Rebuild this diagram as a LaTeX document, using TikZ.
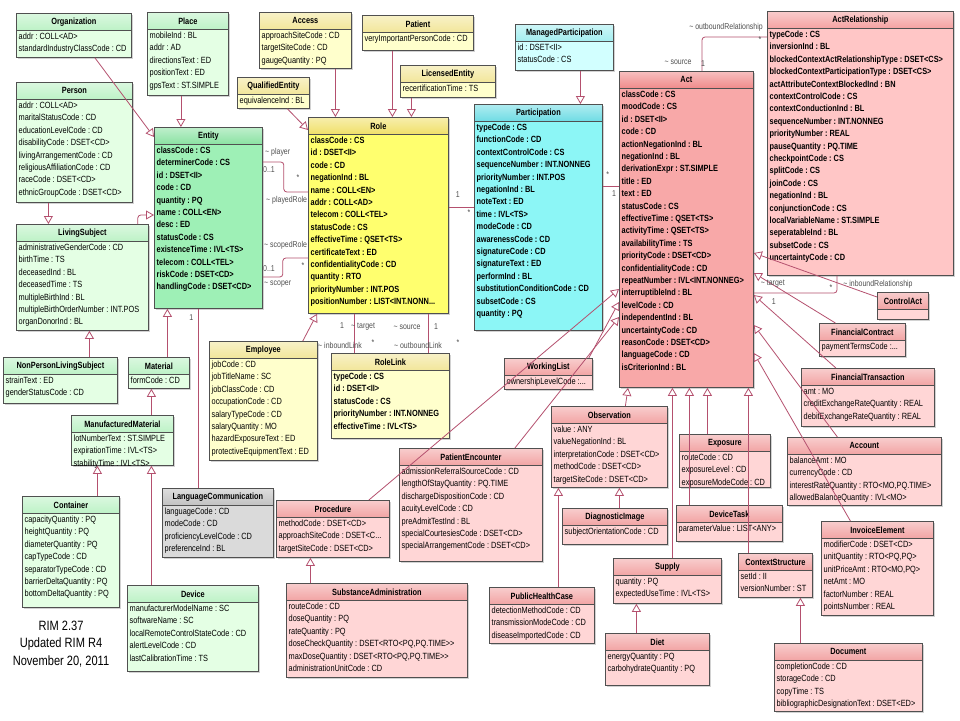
\documentclass[tikz,border=0pt]{standalone}
\usepackage{fontspec}
\usepackage{xcolor}
\usepackage{tikz}
\usetikzlibrary{calc,arrows.meta,shadows}
\newfontfamily\umlfont{Liberation Sans}[FakeStretch=0.82]
\definecolor{edge}{HTML}{505050}
\definecolor{link}{HTML}{B4506E}
\definecolor{labtxt}{HTML}{505050}
\definecolor{entbody}{HTML}{9EF0B6}
\definecolor{enthead}{HTML}{8AE2A2}
\definecolor{grnbody}{HTML}{E4FFE4}
\definecolor{grnhead}{HTML}{BDF2C6}
\definecolor{rolbody}{HTML}{FFFF6E}
\definecolor{rolhead}{HTML}{F0E068}
\definecolor{ylwbody}{HTML}{FFFFCC}
\definecolor{ylwhead}{HTML}{F2E69A}
\definecolor{parbody}{HTML}{8CF6F6}
\definecolor{parhead}{HTML}{6EDCE4}
\definecolor{cynbody}{HTML}{D2FFFF}
\definecolor{cynhead}{HTML}{A4EEF0}
\definecolor{actbody}{HTML}{F8A8A8}
\definecolor{acthead}{HTML}{F08A8A}
\definecolor{arlbody}{HTML}{FFC6C6}
\definecolor{arlhead}{HTML}{F4A2A2}
\definecolor{pnkbody}{HTML}{FFD6D6}
\definecolor{pnkhead}{HTML}{F2A4A4}
\definecolor{grybody}{HTML}{DADADA}
\definecolor{gryhead}{HTML}{C2C2C2}
\tikzset{
  box/.style={draw=edge, line width=0.8pt, fill=#1body, inner sep=0pt,
    drop shadow={shadow xshift=1.5pt, shadow yshift=-1.5pt, fill=black!35}},
  head/.style={draw=edge, line width=0.8pt, top color=#1head!55!white, bottom color=#1head,
    minimum height=17pt, inner sep=0pt, font=\umlfont\fontsize{9}{11}\selectfont\bfseries},
  attr/.style={inner xsep=2.5pt, inner ysep=2pt, align=left,
    font=\umlfont\fontsize{9}{12.4}\selectfont\frenchspacing},
  core/.style={font=\umlfont\fontsize{9}{12.4}\selectfont\frenchspacing\bfseries},
  gen/.style={draw=link, line width=0.8pt, -{Triangle[fill=white, length=8pt, width=9pt]}},
  assoc/.style={draw=link, line width=0.8pt, rounded corners=3pt},
  lab/.style={text=labtxt, inner sep=0pt, font=\umlfont\fontsize{8.5}{10}\selectfont},
  note/.style={align=center, font=\umlfont\fontsize{13.5}{17.5}\selectfont},
}
% [attribute style] name, colour, x, y, width, height, title, attributes
\newcommand{\umlclass}[9][]{%
  \node[box=#3, minimum width=#6pt, minimum height=#7pt, anchor=north west] (#2) at (#4,#5) {};
  \node[head=#3, minimum width=#6pt, anchor=north west] (#2-h) at (#2.north west) {#8};
  \node[attr, #1, anchor=north west] (#2-a) at (#2-h.south west) {#9};
}

\begin{document}
\begin{tikzpicture}[x=1pt, y=-1pt]
  \fill[white] (0,0) rectangle (960,720);
  \useasboundingbox (0,0) rectangle (960,720);

  % association labels sit behind the boxes
  \coordinate (ENE) at (262,127);
  \node[lab, anchor=west] (lplayer) at ($(ENE)+(3,25)$) {\textasciitilde{} player};
  \node[lab, anchor=west] (lpl01) at ($(ENE)+(1,43)$) {0..1};
  \node[lab] (lplstar) at ($(ENE)+(36,51)$) {*};
  \node[lab, anchor=west] (lplayed) at ($(ENE)+(4,73)$) {\textasciitilde{} playedRole};
  \node[lab, anchor=west] (lscoped) at ($(ENE)+(2,118)$) {\textasciitilde{} scopedRole};
  \node[lab, anchor=west] (lsc01) at ($(ENE)+(1,142)$) {0..1};
  \node[lab] (lscstar) at ($(ENE)+(41,139)$) {*};
  \node[lab, anchor=west] (lscoper) at ($(ENE)+(2,157)$) {\textasciitilde{} scoper};

  \umlclass{Organization}{grn}{16}{13}{115}{44}{Organization}{addr : COLL<AD>\\standardIndustryClassCode : CD}
  \umlclass{Place}{grn}{147}{12}{81}{83}{Place}{mobileInd : BL\\addr : AD\\directionsText : ED\\positionText : ED\\gpsText : ST.SIMPLE}
  \umlclass{Person}{grn}{16}{82}{116}{120}{Person}{addr : COLL<AD>\\maritalStatusCode : CD\\educationLevelCode : CD\\disabilityCode : DSET<CD>\\livingArrangementCode : CD\\religiousAffiliationCode : CD\\raceCode : DSET<CD>\\ethnicGroupCode : DSET<CD>}
  \umlclass[core]{Entity}{ent}{154}{127}{108}{181}{Entity}{classCode : CS\\determinerCode : CS\\id : DSET<II>\\code : CD\\quantity : PQ\\name : COLL<EN>\\desc : ED\\statusCode : CS\\existenceTime : IVL<TS>\\telecom : COLL<TEL>\\riskCode : DSET<CD>\\handlingCode : DSET<CD>}
  \umlclass{LivingSubject}{grn}{16}{224}{132}{106}{LivingSubject}{administrativeGenderCode : CD\\birthTime : TS\\deceasedInd : BL\\deceasedTime : TS\\multipleBirthInd : BL\\multipleBirthOrderNumber : INT.POS\\organDonorInd : BL}
  \umlclass{NonPersonLivingSubject}{grn}{3}{357}{114}{46}{NonPersonLivingSubject}{strainText : ED\\genderStatusCode : CD}
  \umlclass{Material}{grn}{128}{357}{61}{31}{Material}{formCode : CD}
  \umlclass{ManufacturedMaterial}{grn}{71}{415}{102}{50}{ManufacturedMaterial}{lotNumberText : ST.SIMPLE\\expirationTime : IVL<TS>\\stabilityTime : IVL<TS>}
  \umlclass{Container}{grn}{22}{496}{97}{111}{Container}{capacityQuantity : PQ\\heightQuantity : PQ\\diameterQuantity : PQ\\capTypeCode : CD\\separatorTypeCode : CD\\barrierDeltaQuantity : PQ\\bottomDeltaQuantity : PQ}
  \umlclass{Device}{grn}{127}{585}{131}{86}{Device}{manufacturerModelName : SC\\softwareName : SC\\localRemoteControlStateCode : CD\\alertLevelCode : CD\\lastCalibrationTime : TS}
  \umlclass{LanguageCommunication}{gry}{162}{488}{111}{69}{LanguageCommunication}{languageCode : CD\\modeCode : CD\\proficiencyLevelCode : CD\\preferenceInd : BL}

  \umlclass{Access}{ylw}{259}{12}{92}{56}{Access}{approachSiteCode : CD\\targetSiteCode : CD\\gaugeQuantity : PQ}
  \umlclass{Patient}{ylw}{362}{15}{111}{35}{Patient}{veryImportantPersonCode : CD}
  \umlclass{LicensedEntity}{ylw}{400}{65}{95}{32}{LicensedEntity}{recertificationTime : TS}
  \umlclass{QualifiedEntity}{ylw}{237}{77}{72}{31}{QualifiedEntity}{equivalenceInd : BL}
  \umlclass[core]{Role}{rol}{308}{117}{140}{196}{Role}{classCode : CS\\id : DSET<II>\\code : CD\\negationInd : BL\\name : COLL<EN>\\addr : COLL<AD>\\telecom : COLL<TEL>\\statusCode : CS\\effectiveTime : QSET<TS>\\certificateText : ED\\confidentialityCode : CD\\quantity : RTO\\priorityNumber : INT.POS\\positionNumber : LIST<INT.NONN...}
  \umlclass{Employee}{ylw}{209}{341}{108}{119}{Employee}{jobCode : CD\\jobTitleName : SC\\jobClassCode : CD\\occupationCode : CD\\salaryTypeCode : CD\\salaryQuantity : MO\\hazardExposureText : ED\\protectiveEquipmentText : ED}
  \umlclass[core]{RoleLink}{ylw}{331}{353}{118}{85}{RoleLink}{typeCode : CS\\id : DSET<II>\\statusCode : CS\\priorityNumber : INT.NONNEG\\effectiveTime : IVL<TS>}

  \umlclass{ManagedParticipation}{cyn}{515}{24}{98}{46}{ManagedParticipation}{id : DSET<II>\\statusCode : CS}
  \umlclass[core]{Participation}{par}{474}{104}{128}{226}{Participation}{typeCode : CS\\functionCode : CD\\contextControlCode : CS\\sequenceNumber : INT.NONNEG\\priorityNumber : INT.POS\\negationInd : BL\\noteText : ED\\time : IVL<TS>\\modeCode : CD\\awarenessCode : CD\\signatureCode : CD\\signatureText : ED\\performInd : BL\\substitutionConditionCode : CD\\subsetCode : CS\\quantity : PQ}

  \umlclass[core]{Act}{act}{619}{71}{134}{316}{Act}{classCode : CS\\moodCode : CS\\id : DSET<II>\\code : CD\\actionNegationInd : BL\\negationInd : BL\\derivationExpr : ST.SIMPLE\\title : ED\\text : ED\\statusCode : CS\\effectiveTime : QSET<TS>\\activityTime : QSET<TS>\\availabilityTime : TS\\priorityCode : DSET<CD>\\confidentialityCode : CD\\repeatNumber : IVL<INT.NONNEG>\\interruptibleInd : BL\\levelCode : CD\\independentInd : BL\\uncertaintyCode : CD\\reasonCode : DSET<CD>\\languageCode : CD\\isCriterionInd : BL}
  \umlclass[core]{ActRelationship}{arl}{767}{11}{186}{264}{ActRelationship}{typeCode : CS\\inversionInd : BL\\blockedContextActRelationshipType : DSET<CS>\\blockedContextParticipationType : DSET<CS>\\actAttributeContextBlockedInd : BN\\contextControlCode : CS\\contextConductionInd : BL\\sequenceNumber : INT.NONNEG\\priorityNumber : REAL\\pauseQuantity : PQ.TIME\\checkpointCode : CS\\splitCode : CS\\joinCode : CS\\negationInd : BL\\conjunctionCode : CS\\localVariableName : ST.SIMPLE\\seperatableInd : BL\\subsetCode : CS\\uncertaintyCode : CD}
  \umlclass{ControlAct}{pnk}{877}{292}{51}{27}{ControlAct}{}
  \umlclass{FinancialContract}{pnk}{819}{323}{86}{33}{FinancialContract}{paymentTermsCode :...}
  \umlclass{FinancialTransaction}{pnk}{801}{368}{133}{58}{FinancialTransaction}{amt : MO\\creditExchangeRateQuantity : REAL\\debitExchangeRateQuantity : REAL}
  \umlclass{Account}{pnk}{787}{437}{154}{68}{Account}{balanceAmt : MO\\currencyCode : CD\\interestRateQuantity : RTO<MO,PQ.TIME>\\allowedBalanceQuantity : IVL<MO>}
  \umlclass{InvoiceElement}{pnk}{821}{521}{112}{94}{InvoiceElement}{modifierCode : DSET<CD>\\unitQuantity : RTO<PQ,PQ>\\unitPriceAmt : RTO<MO,PQ>\\netAmt : MO\\factorNumber : REAL\\pointsNumber : REAL}
  \umlclass{ContextStructure}{pnk}{738}{553}{74}{44}{ContextStructure}{setId : II\\versionNumber : ST}
  \umlclass{Document}{pnk}{774}{643}{148}{68}{Document}{completionCode : CD\\storageCode : CD\\copyTime : TS\\bibliographicDesignationText : DSET<ED>}
  \umlclass{Exposure}{pnk}{679}{434}{91}{53}{Exposure}{routeCode : CD\\exposureLevel : CD\\exposureModeCode : CD}
  \umlclass{DeviceTask}{pnk}{676}{505}{106}{36}{DeviceTask}{parameterValue : LIST<ANY>}
  \umlclass{WorkingList}{pnk}{504}{358}{88}{31}{WorkingList}{ownershipLevelCode :...}
  \umlclass{Observation}{pnk}{551}{406}{116}{81}{Observation}{value : ANY\\valueNegationInd : BL\\interpretationCode : DSET<CD>\\methodCode : DSET<CD>\\targetSiteCode : DSET<CD>}
  \umlclass{DiagnosticImage}{pnk}{562}{508}{105}{36}{DiagnosticImage}{subjectOrientationCode : CD}
  \umlclass{PatientEncounter}{pnk}{399}{448}{143}{113}{PatientEncounter}{admissionReferralSourceCode : CD\\lengthOfStayQuantity : PQ.TIME\\dischargeDispositionCode : CD\\acuityLevelCode : CD\\preAdmitTestInd : BL\\specialCourtesiesCode : DSET<CD>\\specialArrangementCode : DSET<CD>}
  \umlclass{Procedure}{pnk}{276}{500}{113}{57}{Procedure}{methodCode : DSET<CD>\\approachSiteCode : DSET<C...\\targetSiteCode : DSET<CD>}
  \umlclass{SubstanceAdministration}{pnk}{286}{583}{181}{94}{SubstanceAdministration}{routeCode : CD\\doseQuantity : PQ\\rateQuantity : PQ\\doseCheckQuantity : DSET<RTO<PQ,PQ.TIME>{}>\\maxDoseQuantity : DSET<RTO<PQ,PQ.TIME>{}>\\administrationUnitCode : CD}
  \umlclass{PublicHealthCase}{pnk}{489}{587}{105}{56}{PublicHealthCase}{detectionMethodCode : CD\\transmissionModeCode : CD\\diseaseImportedCode : CD}
  \umlclass{Supply}{pnk}{613}{558}{108}{45}{Supply}{quantity : PQ\\expectedUseTime : IVL<TS>}
  \umlclass{Diet}{pnk}{605}{633}{104}{52}{Diet}{energyQuantity : PQ\\carbohydrateQuantity : PQ}

  \node[note] (rim) at (61,644) {RIM 2.37\\Updated RIM R4\\November 20, 2011};

  % generalizations
  \draw[gen] ([xshift=21pt]Organization.south) -- ([yshift=-10pt]Entity.north west);
  \draw[gen] ($(Place.south)+(-7,0)$) -- ($(Place.south |- Entity.north)+(-7,0)$);
  \draw[gen] ($(Person.south)+(-26,0)$) -- ($(Person.south |- LivingSubject.north)+(-26,0)$);
  \draw[gen, rounded corners=3pt] ([xshift=-11pt]LivingSubject.north east) |- ([yshift=-88pt]Entity.north west);
  \draw[gen] ($(NonPersonLivingSubject.north)+(29,0)$) -- ($(NonPersonLivingSubject.north |- LivingSubject.south)+(29,0)$);
  \draw[gen] ($(Material.north)+(8.5,0)$) -- ($(Material.north |- Entity.south)+(8.5,0)$);
  \draw[gen] ($(ManufacturedMaterial.north)+(29,0)$) -- ($(ManufacturedMaterial.north |- Material.south)+(29,0)$);
  \draw[gen] ($(Container.north)+(26.5,0)$) -- ($(Container.north |- ManufacturedMaterial.south)+(26.5,0)$);
  \draw[gen] ($(Device.north)+(-41.5,0)$) -- ($(Device.north |- ManufacturedMaterial.south)+(-41.5,0)$);
  \draw[gen] ([xshift=-15pt]Employee.north east) -- ([xshift=9pt]Role.south west);
  \draw[gen] ($(Access.south)+(30,0)$) -- ($(Access.south |- Role.north)+(30,0)$);
  \draw[gen] ($(Patient.south)+(-25.5,0)$) -- ($(Patient.south |- Role.north)+(-25.5,0)$);
  \draw[gen] ($(LicensedEntity.south)+(-36.5,0)$) -- ($(LicensedEntity.south |- Role.north)+(-36.5,0)$);
  \draw[gen] ([xshift=14pt]QualifiedEntity.south) -- ([yshift=-13pt]Role.north west);
  \draw[gen] ($(ManagedParticipation.south)+(16,0)$) -- ($(ManagedParticipation.south |- Participation.north)+(16,0)$);
  \draw[gen] ([xshift=36pt]Procedure.north) -- ([yshift=-218pt]Act.north west);
  \draw[gen] ([xshift=-4pt]WorkingList.north east) -- ([yshift=-231pt]Act.north west);
  \draw[gen] ([xshift=44pt]PatientEncounter.north) -- ([yshift=-246pt]Act.north west);
  \draw[gen] ([xshift=16pt]Observation.north) -- ([xshift=9pt]Act.south west);
  \draw[gen] ($(Supply.north)+(5,0)$) -- ($(Supply.north |- Act.south)+(5,0)$);
  \draw[gen] ($(DeviceTask.north)+(-40,0)$) -- ($(DeviceTask.north |- Act.south)+(-40,0)$);
  \draw[gen] ($(Exposure.north)+(-17.5,0)$) -- ($(Exposure.north |- Act.south)+(-17.5,0)$);
  \draw[gen] ($(ContextStructure.north)+(-27,0)$) -- ($(ContextStructure.north |- Act.south)+(-27,0)$);
  \draw[gen] ($(DiagnosticImage.north)+(4.5,0)$) -- ($(DiagnosticImage.north |- Observation.south)+(4.5,0)$);
  \draw[gen] ($(PublicHealthCase.north)+(16.5,0)$) -- ($(PublicHealthCase.north |- Observation.south)+(16.5,0)$);
  \draw[gen] ($(Diet.north)+(-21,0)$) -- ($(Diet.north |- Supply.south)+(-21,0)$);
  \draw[gen] ($(SubstanceAdministration.north)+(-66.5,0)$) -- ($(SubstanceAdministration.north |- Procedure.south)+(-66.5,0)$);
  \draw[gen] ($(Document.north)+(-48,0)$) -- ($(Document.north |- ContextStructure.south)+(-48,0)$);
  \draw[gen] ([yshift=-5pt]ControlAct.north west) -- ([yshift=-182pt]Act.north east);
  \draw[gen] ([xshift=-27pt]FinancialContract.north) -- ([yshift=-202pt]Act.north east);
  \draw[gen] ([xshift=-32pt]FinancialTransaction.north) -- ([yshift=-224pt]Act.north east);
  \draw[gen] ([xshift=-27pt]Account.north) -- ([yshift=-254pt]Act.north east);
  \draw[gen] ([xshift=-27pt]InvoiceElement.north) -- ([yshift=-282pt]Act.north east);

  % associations
  \draw[assoc] ([yshift=-35pt]Entity.north east) -- ++(21,0) |- ([yshift=-75pt]Role.north west);
  \draw[assoc] ([yshift=-150pt]Entity.north east) -- ++(20,0) |- ([yshift=-141pt]Role.north west);
  \draw[assoc] ($(Entity.south)+(-10,0)$) -- ($(Entity.south |- LanguageCommunication.north)+(-10,0)$);
  \draw[assoc] ([yshift=-90pt]Role.north east) -- ([yshift=-103pt]Participation.north west);
  \draw[assoc] ([yshift=-82pt]Participation.north east) -- ([yshift=-115pt]Act.north west);
  \draw[assoc] ([xshift=46pt]Role.south west) -- ([xshift=23pt]RoleLink.north west);
  \draw[assoc] ([xshift=120pt]Role.south west) -- ([xshift=97pt]RoleLink.north west);
  \draw[assoc] ([xshift=83pt]Act.north west) |- ([yshift=-26pt]ActRelationship.north west);
  \draw[assoc] ([yshift=-222pt]Act.north east) -| ([xshift=70pt]ActRelationship.south west);

  \node[lab] (lent1) at ($(Entity.south)+(-17,9)$) {1};
  \node[lab] (lrp1) at ($(Role.north east)+(9,78)$) {1};
  \node[lab] (lrpstar) at ($(Participation.north west)+(-5,109)$) {*};
  \node[lab] (lpastar) at ($(Participation.north east)+(5,71)$) {*};
  \node[lab] (lpa1) at ($(Act.north west)+(-5,123)$) {1};
  \node[lab] (ltgt1) at ($(Role.south west)+(34,12)$) {1};
  \node[lab, anchor=west] (ltgt) at ($(Role.south west)+(43,13)$) {\textasciitilde{} target};
  \node[lab] (linlink) at ($(Role.south west)+(32,32)$) {\textasciitilde{} inboundLink};
  \node[lab] (linstar) at ($(Role.south west)+(65,29)$) {*};
  \node[lab] (lsrc) at ($(Role.south west)+(99,13)$) {\textasciitilde{} source};
  \node[lab] (lsrc1) at ($(Role.south west)+(128,13)$) {1};
  \node[lab] (loutlink) at ($(Role.south west)+(110,32)$) {\textasciitilde{} outboundLink};
  \node[lab] (loutstar) at ($(Role.south west)+(150,29)$) {*};
  \node[lab] (loutrel) at ($(Act.north west)+(107,-44)$) {\textasciitilde{} outboundRelationship};
  \node[lab] (loutrelstar) at ($(ActRelationship.north west)+(-7,29)$) {*};
  \node[lab] (lactsrc) at ($(Act.north west)+(59,-9)$) {\textasciitilde{} source};
  \node[lab] (lactsrc1) at ($(Act.north west)+(84,-7)$) {1};
  \node[lab] (lacttgt) at ($(Act.north east)+(19,213)$) {\textasciitilde{} target};
  \node[lab] (lacttgt1) at ($(Act.north east)+(20,231)$) {1};
  \node[lab] (linrelstar) at ($(ActRelationship.south west)+(64,12)$) {*};
  \node[lab] (linrel) at ($(ActRelationship.south west)+(111,8)$) {\textasciitilde{} inboundRelationship};
\end{tikzpicture}
\end{document}
